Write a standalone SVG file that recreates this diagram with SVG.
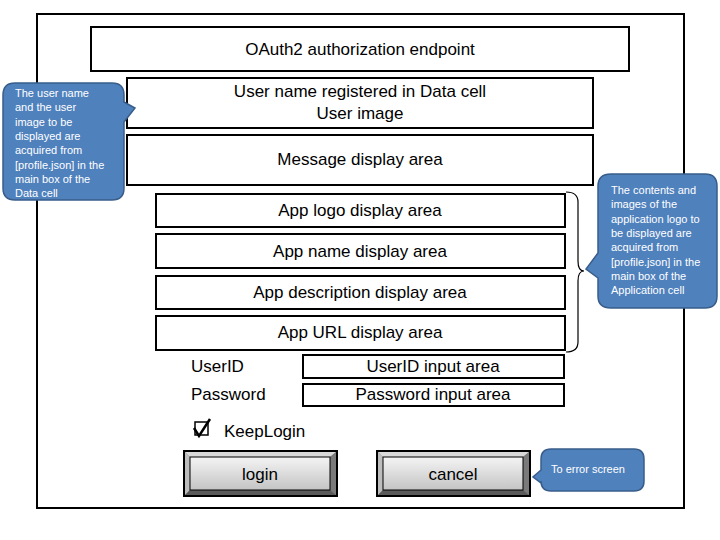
<svg xmlns="http://www.w3.org/2000/svg" width="720" height="540" viewBox="0 0 720 540">
<defs>
<style>
.box{fill:#fff;stroke:#000;stroke-width:2}
.t{font-family:"Liberation Sans",Arial,sans-serif;font-size:17px;fill:#000}
.c{text-anchor:middle}
.co{fill:#4F81BD;stroke:#385D8A;stroke-width:1.5}
.ct{font-family:"Liberation Sans",Arial,sans-serif;font-size:11px;fill:#fff}
.bt{font-family:"Liberation Sans",Arial,sans-serif;font-size:17px;fill:#000;text-anchor:middle}
</style>
<linearGradient id="face" x1="0" y1="0" x2="0" y2="1">
<stop offset="0" stop-color="#f4f4f4"/>
<stop offset="1" stop-color="#c4c4c4"/>
</linearGradient>
</defs>
<rect width="720" height="540" fill="#fff"/>
<g id="frame"><rect x="37" y="14" width="647" height="494" fill="#fff" stroke="#000" stroke-width="2"/></g>

<g id="oauth"><rect class="box" x="91" y="27" width="538" height="44"/><text class="t c" x="360" y="55">OAuth2 authorization endpoint</text></g>
<g id="username"><rect class="box" x="127" y="78" width="466" height="50"/><text class="t c" x="360" y="97">User name registered in Data cell</text><text class="t c" x="360" y="119">User image</text></g>
<g id="message"><rect class="box" x="127" y="135" width="466" height="50"/><text class="t c" x="360" y="165">Message display area</text></g>
<g id="applogo"><rect class="box" x="156" y="194" width="409" height="33"/><text class="t c" x="360" y="216">App logo display area</text></g>
<g id="appname"><rect class="box" x="156" y="234" width="409" height="34"/><text class="t c" x="360" y="257">App name display area</text></g>
<g id="appdesc"><rect class="box" x="156" y="276" width="409" height="33"/><text class="t c" x="360" y="298">App description display area</text></g>
<g id="appurl"><rect class="box" x="156" y="316" width="409" height="34"/><text class="t c" x="360" y="338">App URL display area</text></g>

<g id="userid"><text class="t" x="191" y="372">UserID</text><rect class="box" x="303" y="355" width="261" height="23"/><text class="t c" x="433" y="372">UserID input area</text></g>
<g id="password"><text class="t" x="191" y="400">Password</text><rect class="box" x="303" y="384" width="261" height="22"/><text class="t c" x="433" y="400">Password input area</text></g>

<g id="keeplogin">
<rect x="195" y="422" width="13" height="13" fill="#fff" stroke="#000" stroke-width="1.5"/>
<path d="M194,428 L199,436 L210,419" fill="none" stroke="#000" stroke-width="2.5"/>
<text class="t" x="224" y="437">KeepLogin</text>
</g>

<g id="login">
<rect x="184" y="451" width="153" height="45" fill="#888" stroke="#000" stroke-width="2"/>
<polygon points="185,452 336,452 330,457 190,457" fill="#d9d9d9"/>
<polygon points="185,452 190,457 190,490 185,495" fill="#bdbdbd"/>
<polygon points="336,452 336,495 330,490 330,457" fill="#7a7a7a"/>
<polygon points="185,495 190,490 330,490 336,495" fill="#5a5a5a"/>
<rect x="190" y="457" width="140" height="33" fill="url(#face)" stroke="#000" stroke-width="1"/>
<text class="bt" x="260" y="480">login</text>
</g>
<g id="cancel">
<rect x="377" y="451" width="153" height="45" fill="#888" stroke="#000" stroke-width="2"/>
<polygon points="378,452 529,452 523,457 383,457" fill="#d9d9d9"/>
<polygon points="378,452 383,457 383,490 378,495" fill="#bdbdbd"/>
<polygon points="529,452 529,495 523,490 523,457" fill="#7a7a7a"/>
<polygon points="378,495 383,490 523,490 529,495" fill="#5a5a5a"/>
<rect x="383" y="457" width="140" height="33" fill="url(#face)" stroke="#000" stroke-width="1"/>
<text class="bt" x="453" y="480">cancel</text>
</g>

<g id="connectors">
<path d="M566,192 Q578,192 578,202 L578,261 Q578,271 584,271 Q578,271 578,281 L578,342 Q578,352 566,352" fill="none" stroke="#000" stroke-width="1.2"/>
</g>

<g id="callout-user">
<path class="co" d="M15,83 L112,83 Q124,83 124,95 L124,102 L135,108 L124,122 L124,188 Q124,200 112,200 L15,200 Q3,200 3,188 L3,95 Q3,83 15,83 Z"/>
<text class="ct" x="15" y="97">The user name</text>
<text class="ct" x="15" y="111.3">and the user</text>
<text class="ct" x="15" y="125.6">image to be</text>
<text class="ct" x="15" y="139.9">displayed are</text>
<text class="ct" x="15" y="154.2">acquired from</text>
<text class="ct" x="15" y="168.5">[profile.json] in the</text>
<text class="ct" x="15" y="182.8">main box of the</text>
<text class="ct" x="15" y="197">Data cell</text>
</g>

<g id="callout-app">
<path class="co" d="M611,174 L705,174 Q717,174 717,186 L717,296 Q717,308 705,308 L611,308 Q598,308 598,296 L598,278 L586,269 L598,253 L598,186 Q598,174 611,174 Z"/>
<text class="ct" x="611" y="194">The contents and</text>
<text class="ct" x="611" y="208.3">images of the</text>
<text class="ct" x="611" y="222.6">application logo to</text>
<text class="ct" x="611" y="236.9">be displayed are</text>
<text class="ct" x="611" y="251.2">acquired from</text>
<text class="ct" x="611" y="265.5">[profile.json] in the</text>
<text class="ct" x="611" y="279.8">main box of the</text>
<text class="ct" x="611" y="294">Application cell</text>
</g>

<g id="callout-error">
<path class="co" d="M551,449 L634,449 Q644,449 644,459 L644,481 Q644,491 634,491 L551,491 Q541,491 541,481 L541,483 L533,477 L541,470 L541,459 Q541,449 551,449 Z"/>
<text class="ct" x="551" y="473">To error screen</text>
</g>
</svg>
